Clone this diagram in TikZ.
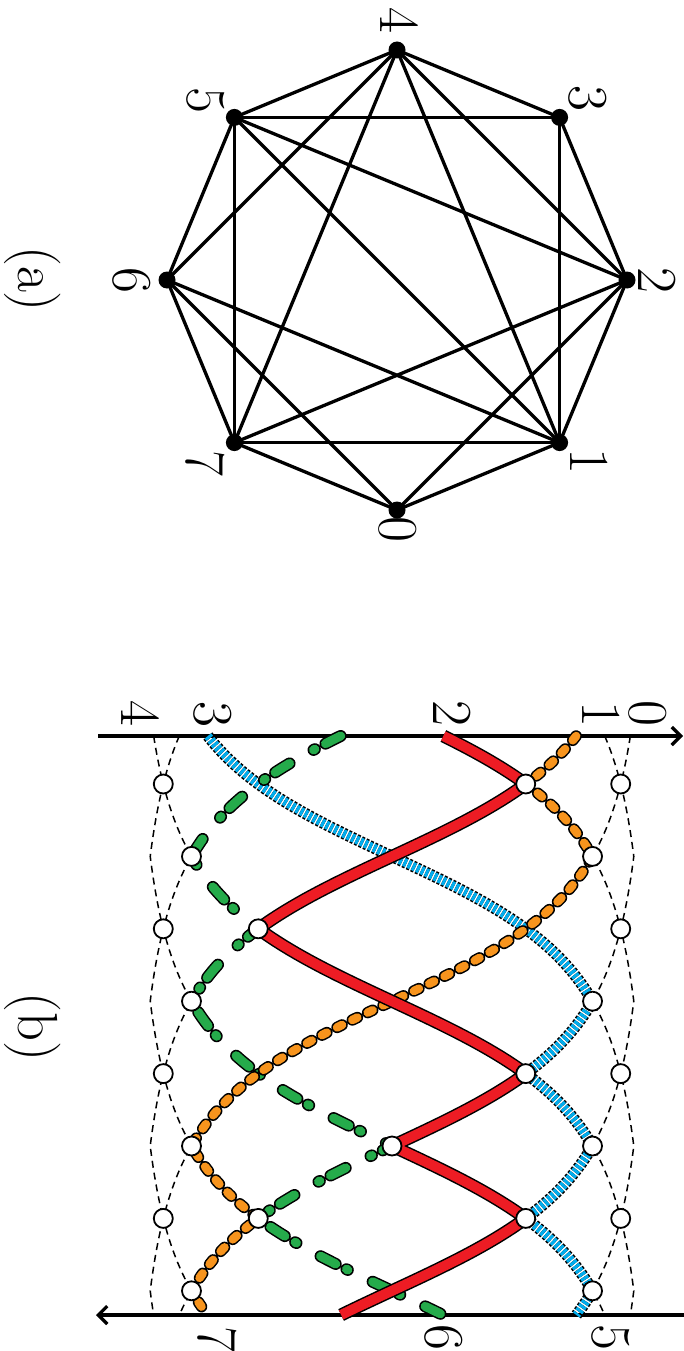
\documentclass[tikz,border=0pt]{standalone}
\usetikzlibrary{arrows.meta}
\definecolor{cred}{RGB}{237,28,36}
\definecolor{corange}{RGB}{247,148,29}
\definecolor{cgreen}{RGB}{37,171,75}
\definecolor{cblue}{RGB}{0,174,239}
\newcommand{\seg}[4]{plot[domain=0:1,samples=36,variable=\q]({gx((#1)+((#3)-(#1))*\q)},{ky((#2)+((#4)-(#2))*\q)})}
\newcommand{\segto}[4]{-- plot[domain=0:1,samples=36,variable=\q]({gx((#1)+((#3)-(#1))*\q)},{ky((#2)+((#4)-(#2))*\q)})}
\begin{document}
\begin{tikzpicture}[x=1pt,y=-1pt,
  declare function={gx(\u)=392+155.4*\u/sqrt(1+0.3506*\u*\u); ky(\k)=784+72.4*(\k-1);},
  lbl/.style={rotate=-90,inner sep=0pt,font=\fontsize{56.5}{60}\selectfont},
  vdot/.style={circle,fill=black,inner sep=0pt,minimum size=17pt},
  gedge/.style={line width=3.3pt},
  xing/.style={circle,draw=black,fill=white,line width=1.8pt,inner sep=0pt,minimum size=19pt},
  axisline/.style={line width=3.2pt,-{Straight Barb[length=9pt,width=18pt]}},
  dashline/.style={line width=1.5pt,dash pattern=on 7pt off 5pt},
  redline/.style={draw=cred,line width=10pt,line join=round,preaction={draw=black,line width=13pt,line join=round}},
  blueline/.style={draw=cblue,line width=8.5pt,dash pattern=on 3pt off 1.8pt,preaction={draw=black,line width=11.5pt,dash pattern=on 3pt off 1.8pt}},
  orangeline/.style={draw=corange,line width=8.5pt,line cap=round,dash pattern=on 5.5pt off 11.5pt,preaction={draw=black,line width=11.5pt,line cap=round,dash pattern=on 5.5pt off 11.5pt}},
  greenline/.style={draw=cgreen,line width=9pt,line cap=round,dash pattern=on 17pt off 12pt on 1.5pt off 27.5pt,preaction={draw=black,line width=12pt,line cap=round,dash pattern=on 17pt off 12pt on 1.5pt off 27.5pt}},
]
\useasboundingbox (0,0) rectangle (684,1351);

% ---------------- (a) graph ----------------
\node[vdot] (v0) at (397,510) {};
\node[vdot] (v1) at (559.6,442.6) {};
\node[vdot] (v2) at (627,280) {};
\node[vdot] (v3) at (559.6,117.4) {};
\node[vdot] (v4) at (397,50) {};
\node[vdot] (v5) at (234.4,117.4) {};
\node[vdot] (v6) at (167,280) {};
\node[vdot] (v7) at (234.4,442.6) {};
\foreach \a/\b in {0/1,0/7,0/2,0/6,1/2,1/3,1/4,1/5,1/6,1/7,2/3,2/4,2/5,2/7,3/4,3/5,4/5,4/6,4/7,5/6,5/7,6/7}
  \draw[gedge] (v\a.center) -- (v\b.center);
\node[lbl] (l0) at (398,529) {0};
\node[lbl] (l1) at (589,461) {1};
\node[lbl] (l2) at (657.5,280.5) {2};
\node[lbl] (l3) at (588,98) {3};
\node[lbl] (l4) at (399,20) {4};
\node[lbl] (l5) at (205.5,100) {5};
\node[lbl] (l6) at (132,280.5) {6};
\node[lbl] (l7) at (205.5,463.5) {7};
\node[lbl] (capa) at (33,279) {(a)};

% ---------------- (b) ----------------
\coordinate (ta0) at (98,736);
\coordinate (ta1) at (683,736);
\coordinate (ba0) at (684,1315);
\coordinate (ba1) at (96,1315);
\draw[axisline] (ta0) -- (ta1);
\draw[axisline] (ba0) -- (ba1);

\node[lbl] (b0) at (647.5,713) {0};
\node[lbl] (b1) at (601,714) {1};
\node[lbl] (b2) at (452.5,713) {2};
\node[lbl] (b3) at (212.5,714) {3};
\node[lbl] (b4) at (140,713) {4};
\node[lbl] (b5) at (611,1337) {5};
\node[lbl] (b6) at (444,1337) {6};
\node[lbl] (b7) at (217.5,1339) {7};
\node[lbl] (capb) at (33,1027) {(b)};

% thin dashed strands
\draw[dashline] \seg{-3.663}{0.337}{-3}{1} \segto{-3}{1}{-4}{2} \segto{-4}{2}{-3}{3} \segto{-3}{3}{-4}{4} \segto{-4}{4}{-3}{5} \segto{-3}{5}{-4}{6} \segto{-4}{6}{-3}{7} \segto{-3}{7}{-4}{8} \segto{-4}{8}{-3.666}{8.334};
\draw[dashline] \seg{-2.337}{0.337}{-3}{1} \segto{-3}{1}{-2}{2} \segto{-2}{2}{-3}{3} \segto{-3}{3}{-2}{4} \segto{-2}{4}{-3}{5} \segto{-3}{5}{-2}{6} \segto{-2}{6}{-3}{7} \segto{-3}{7}{-2}{8} \segto{-2}{8}{-2.334}{8.334};
\draw[dashline] \seg{3.663}{0.337}{3}{1} \segto{3}{1}{4}{2} \segto{4}{2}{3}{3} \segto{3}{3}{4}{4} \segto{4}{4}{3}{5} \segto{3}{5}{4}{6} \segto{4}{6}{3}{7} \segto{3}{7}{4}{8} \segto{4}{8}{3.666}{8.334};
\draw[dashline] \seg{2.337}{0.337}{3}{1} \segto{3}{1}{2}{2} \segto{2}{2}{3}{3} \segto{3}{3}{2}{4} \segto{2}{4}{3}{5} \segto{3}{5}{2}{6} \segto{2}{6}{3}{7} \segto{3}{7}{2}{8} \segto{2}{8}{2.334}{8.334};

% blue
\draw[blueline] \seg{-1.663}{0.337}{2}{4} \segto{2}{4}{1}{5} \segto{1}{5}{2}{6} \segto{2}{6}{1}{7} \segto{1}{7}{2}{8} \segto{2}{8}{1.666}{8.334};
% green
\draw[greenline] \seg{-0.337}{0.337}{-2}{2} \segto{-2}{2}{-1}{3} \segto{-1}{3}{-2}{4} \segto{-2}{4}{0}{6} \segto{0}{6}{-1}{7} \segto{-1}{7}{0.334}{8.334};
% orange
\draw[orangeline] \seg{1.663}{0.337}{1}{1} \segto{1}{1}{2}{2} \segto{2}{2}{-2}{6} \segto{-2}{6}{-1}{7} \segto{-1}{7}{-2}{8} \segto{-2}{8}{-1.666}{8.334};
% red
\draw[redline] \seg{0.337}{0.337}{1}{1} \segto{1}{1}{-1}{3} \segto{-1}{3}{1}{5} \segto{1}{5}{0}{6} \segto{0}{6}{1}{7} \segto{1}{7}{-0.334}{8.334};

% crossing circles
\foreach \n/\u/\k in {A1/-3/1,E1/1/1,G1/3/1,B2/-2/2,F2/2/2,A3/-3/3,C3/-1/3,G3/3/3,B4/-2/4,F4/2/4,A5/-3/5,E5/1/5,G5/3/5,B6/-2/6,D6/0/6,F6/2/6,A7/-3/7,C7/-1/7,E7/1/7,G7/3/7,B8/-2/8,F8/2/8}
  \node[xing] (x\n) at ({gx(\u)},{ky(\k)}) {};
\end{tikzpicture}
\end{document}
